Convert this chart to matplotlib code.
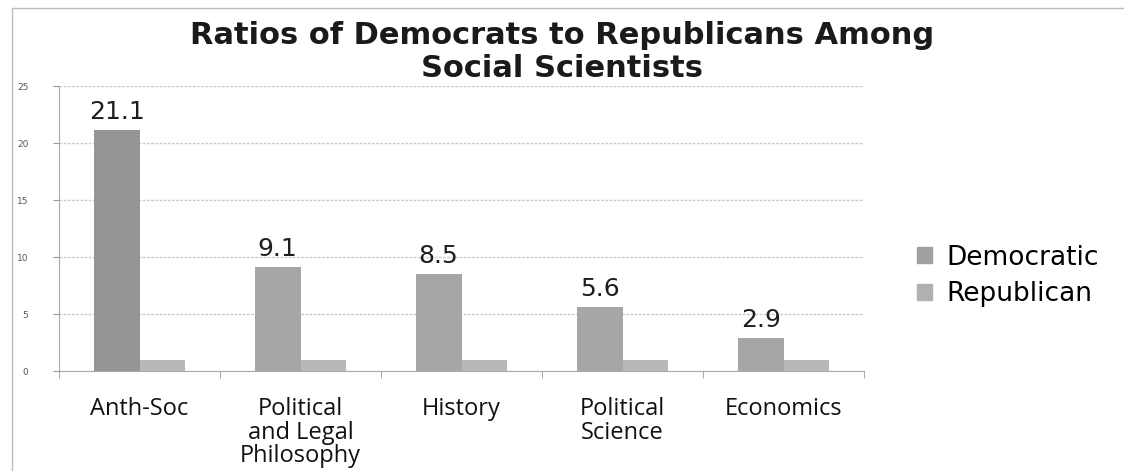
import matplotlib
matplotlib.use("Agg")
import matplotlib.pyplot as plt
import numpy as np
from matplotlib.patches import Rectangle

categories = ["Anth-Soc", "Political\nand Legal\nPhilosophy", "History", "Political\nScience", "Economics"]
democratic = [21.1, 9.1, 8.5, 5.6, 2.9]
republican = [1, 1, 1, 1, 1]
series_names = ["Democratic", "Republican"]
yticks = [0, 5, 10, 15, 20, 25]
title = "Ratios of Democrats to Republicans Among\nSocial Scientists"

fig = plt.figure(figsize=(11.24, 4.71), dpi=100)
fig.patch.set_facecolor("white")
ax = fig.add_axes([0.0525, 0.2123, 0.7162, 0.6051])

x = np.arange(len(categories))
w = 0.285
dem_colors = ["#959595", "#a6a6a6", "#a6a6a6", "#a6a6a6", "#a6a6a6"]
rep_color = "#b8b8b8"
b1 = ax.bar(x - w / 2, democratic, w, color=dem_colors, label=series_names[0], zorder=3)
b2 = ax.bar(x + w / 2, republican, w, color=rep_color, label=series_names[1], zorder=3)

for xi, v in zip(x, democratic):
    ax.text(xi - w / 2, v + 0.55, f"{v}", ha="center", va="bottom",
            fontsize=18, family="DejaVu Sans", color="#1e1e1e")

ax.set_xlim(-0.5, len(categories) - 0.5)
ax.set_ylim(0, 25)
ax.set_yticks(yticks)
ax.set_yticklabels([str(t) for t in yticks], fontsize=6.5, color="#555555")
ax.set_xticks(x)
ax.set_xticklabels(categories, fontsize=17, family="Open Sans", color="#111111", linespacing=0.97)
ax.set_xticks(np.arange(-0.5, len(categories)), minor=True)
ax.tick_params(axis="x", which="major", length=0, pad=19)
ax.tick_params(axis="x", which="minor", length=5, color="#999999")
ax.tick_params(axis="y", length=4, color="#999999", pad=18)
ax.yaxis.grid(True, color="#cccccc", linewidth=1.0, linestyle=(0, (2, 1)), zorder=0)
for s in ["top", "right"]:
    ax.spines[s].set_visible(False)
ax.spines["left"].set_color("#aaaaaa")
ax.spines["bottom"].set_color("#aaaaaa")

fig.text(0.50, 0.890, title, ha="center", va="center", fontsize=22, fontweight="bold",
         family="DejaVu Sans", color="#1a1a1a", linespacing=1.15)

leg = fig.legend(handles=[b1, b2], labels=series_names, loc="center left",
                 bbox_to_anchor=(0.795, 0.414), frameon=False,
                 prop={"family": "DejaVu Sans", "size": 19},
                 handlelength=0.55, handleheight=0.55, handletextpad=0.55, labelspacing=0.4)
leg.legend_handles[0].set_color("#a0a0a0")
leg.legend_handles[1].set_color("#b0b0b0")

# frame of the chart area
fig.add_artist(Rectangle((0.011, -0.05), 1.2, 1.033, transform=fig.transFigure,
                         fill=False, edgecolor="#bbbbbb", linewidth=1.0))

fig.savefig("out.png", dpi=100, facecolor="white")
